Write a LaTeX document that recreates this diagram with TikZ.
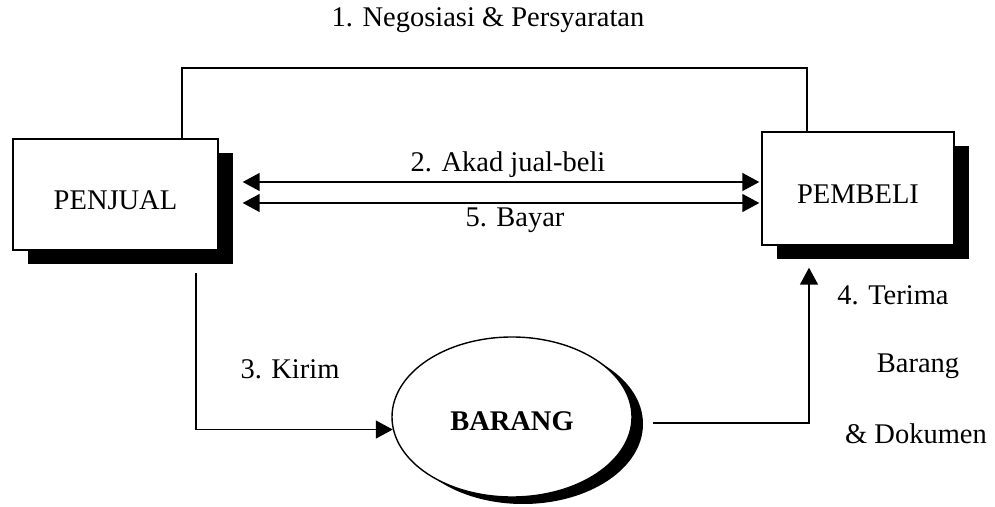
\documentclass[tikz,border=0pt]{standalone}
\usepackage{fontspec}
\setmainfont{Liberation Serif}
\usetikzlibrary{arrows.meta,shapes.geometric,shadows}
\begin{document}
\begin{tikzpicture}[x=1pt,y=1pt,
  txt/.style={font=\fontsize{28.5}{34}\selectfont, inner sep=0pt},
  party/.style={txt, draw, line width=1.4pt, fill=white, inner sep=0pt,
    text height=31pt, text depth=0pt,
    drop shadow={shadow xshift=15pt, shadow yshift=-14pt, fill=black, opacity=1}},
  goods/.style={txt, ellipse, draw, line width=1.4pt, fill=white, inner sep=0pt,
    minimum width=240pt, minimum height=160pt, text height=26pt, text depth=0pt,
    font=\fontsize{28.5}{34}\selectfont\bfseries,
    drop shadow={shadow xshift=11pt, shadow yshift=-7pt, fill=black, opacity=1}},
  link/.style={line width=1.5pt},
  arr/.style={link, -{Triangle[length=17pt,width=18pt]}},
  dbl/.style={link, {Triangle[length=17pt,width=18pt]}-{Triangle[length=17pt,width=18pt]}}]

\useasboundingbox (0,0) rectangle (995,506);

% parties
\node[party, minimum width=205pt, minimum height=111pt] (penjual) at (115.5,311.5) {PENJUAL};
\node[party, minimum width=192pt, minimum height=113pt] (pembeli) at (858,317.5) {PEMBELI};

% goods
\node[goods] (barang) at (512,89) {BARANG};

% 1. negotiation link over the top
\coordinate (topmid) at (500,438);
\draw[link] ([xshift=66.5pt]penjual.north) |- (topmid) -| ([xshift=-51pt]pembeli.north);
\node[txt, anchor=base] (lneg) at (488,479) {1. Negosiasi \& Persyaratan};

% 2. contract and 5. payment
\draw[dbl] ([shift={(24pt,12.5pt)}]penjual.east) -- ([shift={(-2pt,6.5pt)}]pembeli.west);
\draw[dbl] ([shift={(24pt,-8.5pt)}]penjual.east) -- ([shift={(-2pt,-14.5pt)}]pembeli.west);
\node[txt, anchor=base] (lakad) at (508,334) {2. Akad jual-beli};
\node[txt, anchor=base] (lbayar) at (515,279) {5. Bayar};

% 3. shipping
\draw[arr] ([shift={(80.5pt,-22pt)}]penjual.south) |- (barang.186);
\node[txt, anchor=base] (lkirim) at (290,127) {3. Kirim};

% 4. receipt
\draw[arr] ([shift={(20pt,-6pt)}]barang.east) -| ([shift={(-49pt,-22pt)}]pembeli.south);
\node[txt, anchor=base] (lterima) at (893,201) {4. Terima};
\node[txt, anchor=base] (lbarang) at (918,133) {Barang};
\node[txt, anchor=base] (ldok) at (916,63) {\& Dokumen};

\end{tikzpicture}
\end{document}
